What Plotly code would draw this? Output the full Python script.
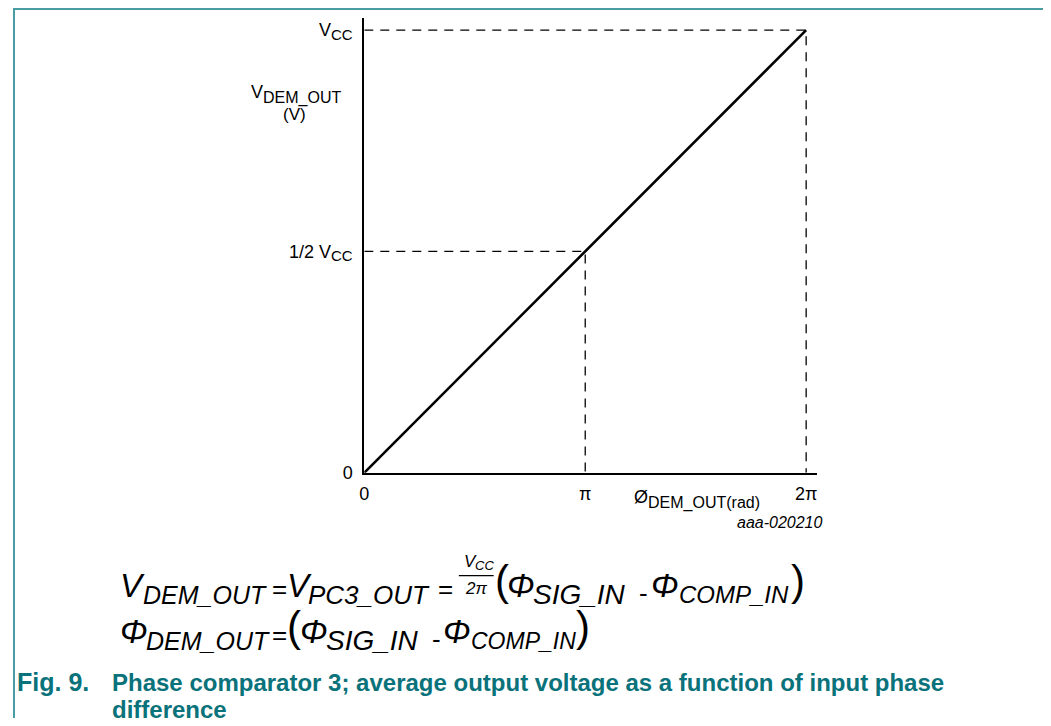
import numpy as np
import plotly.graph_objects as go

# ---- data ----
phase_rad = [0.0, np.pi, 2 * np.pi]          # x positions: 0, π, 2π
vout_frac = [0.0, 0.5, 1.0]                   # y positions: 0, 1/2 Vcc, Vcc
x_tick_labels = ["0", "π", "2π"]
SUB = "<sub><span style='font-size:15px'>%s</span></sub>"
y_tick_labels = ["0", "1/2 V" + SUB % "CC", "V" + SUB % "CC"]

# page has an 8px body margin; vertical photo factor compensated
OFF = 8
SY = 0.987
W, H = 1051 - 2 * OFF, 720
def px(x):
    return (x - OFF) / W
def py(y):
    return 1 - (y / SY - OFF) / H

TEAL = "#0a727a"
BORDER = "#4a9ca3"
FONT = "Liberation Sans"

fig = go.Figure()

# transfer line
fig.add_trace(go.Scatter(x=[phase_rad[0], phase_rad[2]], y=[vout_frac[0], vout_frac[2]],
                         mode="lines", line=dict(color="black", width=2.6),
                         hoverinfo="skip", showlegend=False))
# dashed guides
dash = dict(color="black", width=1.3, dash="9px,7px")
for xi, yi in [(phase_rad[1], vout_frac[1]), (phase_rad[2], vout_frac[2])]:
    fig.add_trace(go.Scatter(x=[0, xi, xi], y=[yi, yi, 0], mode="lines", line=dash,
                             hoverinfo="skip", showlegend=False))

x_top = 2 * np.pi * (816 - 361) / 444
y_top = (473 - 18) / 443

fig.update_layout(
    width=W, height=H, margin=dict(l=0, r=0, t=0, b=0),
    paper_bgcolor="white", plot_bgcolor="white",
    font=dict(family=FONT, size=18, color="black"),
    xaxis=dict(domain=[px(361), px(816)], range=[0, x_top], showgrid=False, zeroline=False,
               showline=True, linecolor="black", linewidth=2,
               tickvals=phase_rad, ticktext=x_tick_labels, ticks="", fixedrange=True,
               tickfont=dict(size=18), ticklabelstandoff=4),
    yaxis=dict(domain=[py(473), py(18)], range=[0, y_top], showgrid=False, zeroline=False,
               showline=True, linecolor="black", linewidth=2,
               tickvals=vout_frac, ticktext=y_tick_labels, ticks="", fixedrange=True,
               tickfont=dict(size=18), ticklabelstandoff=6),
)

ann = []
def A(text, x, y, size=15, xanchor="left", yanchor="middle", color="black", align="left", italic=False, bold=False):
    if italic:
        text = "<i>" + text + "</i>"
    if bold:
        text = "<b>" + text + "</b>"
    ann.append(dict(text=text, x=px(x), y=py(y), xref="paper", yref="paper", showarrow=False,
                    xanchor=xanchor, yanchor=yanchor, align=align, borderpad=0,
                    font=dict(size=size, color=color, family=FONT)))

# axis titles
A("V", 246, 92, size=18)
A("DEM_OUT", 258, 98, size=16)
A("(V)", 291, 114, size=17, xanchor="center")
A("Ø", 631, 497, size=18)
A("DEM_OUT(rad)", 645, 503, size=16)
A("aaa-020210", 823, 523, size=16, xanchor="right", italic=True)

# formula line 1
M, S = 33, 25
A("V", 115, 586, size=M, italic=True)
A("DEM_OUT", 138, 595, size=S, italic=True)
A("=", 267, 589, size=26)
A("V", 282, 586, size=M, italic=True)
A("PC3_OUT", 303, 595, size=S + 1, italic=True)
A("=", 434, 589, size=26)
A("V", 460, 562, size=17, italic=True)
A("CC", 471, 566, size=13, italic=True)
A("2π", 473, 589, size=17, xanchor="center", italic=True)
A("(", 491, 581, size=42)
A("Φ", 503, 586, size=M, italic=True)
A("SIG_IN", 530, 595, size=S + 3, italic=True)
A("-", 636, 593, size=26)
A("Φ", 648, 586, size=M, italic=True)
A("COMP_IN", 676, 595, size=S - 1, italic=True)
A(")", 789, 581, size=42)
# formula line 2
A("Φ", 115, 632, size=M, italic=True)
A("DEM_OUT", 141, 641, size=S, italic=True)
A("=", 267, 635, size=26)
A("(", 282, 627, size=42)
A("Φ", 295, 632, size=M, italic=True)
A("SIG_IN", 322, 641, size=S + 3, italic=True)
A("-", 428, 639, size=26)
A("Φ", 439, 632, size=M, italic=True)
A("COMP_IN", 467, 641, size=S - 2, italic=True)
A(")", 573, 627, size=42)

# caption
A("Fig. 9.", 11, 683, size=25, color=TEAL, bold=True)
A("Phase comparator 3; average output voltage as a function of input phase",
  106, 683, size=24, color=TEAL, bold=True)
A("difference", 106, 710, size=24, color=TEAL, bold=True)

fig.update_layout(annotations=ann)

shapes = [
    dict(type="line", xref="paper", yref="paper", x0=px(456), x1=px(491), y0=py(576), y1=py(576),
         line=dict(color="black", width=1.3)),
    dict(type="line", xref="paper", yref="paper", x0=px(8), x1=1, y0=py(9), y1=py(9),
         line=dict(color=BORDER, width=2)),
    dict(type="line", xref="paper", yref="paper", x0=px(9), x1=px(9), y0=0, y1=py(9),
         line=dict(color=BORDER, width=2)),
]
fig.update_layout(shapes=shapes)

fig.write_html("out.html")
